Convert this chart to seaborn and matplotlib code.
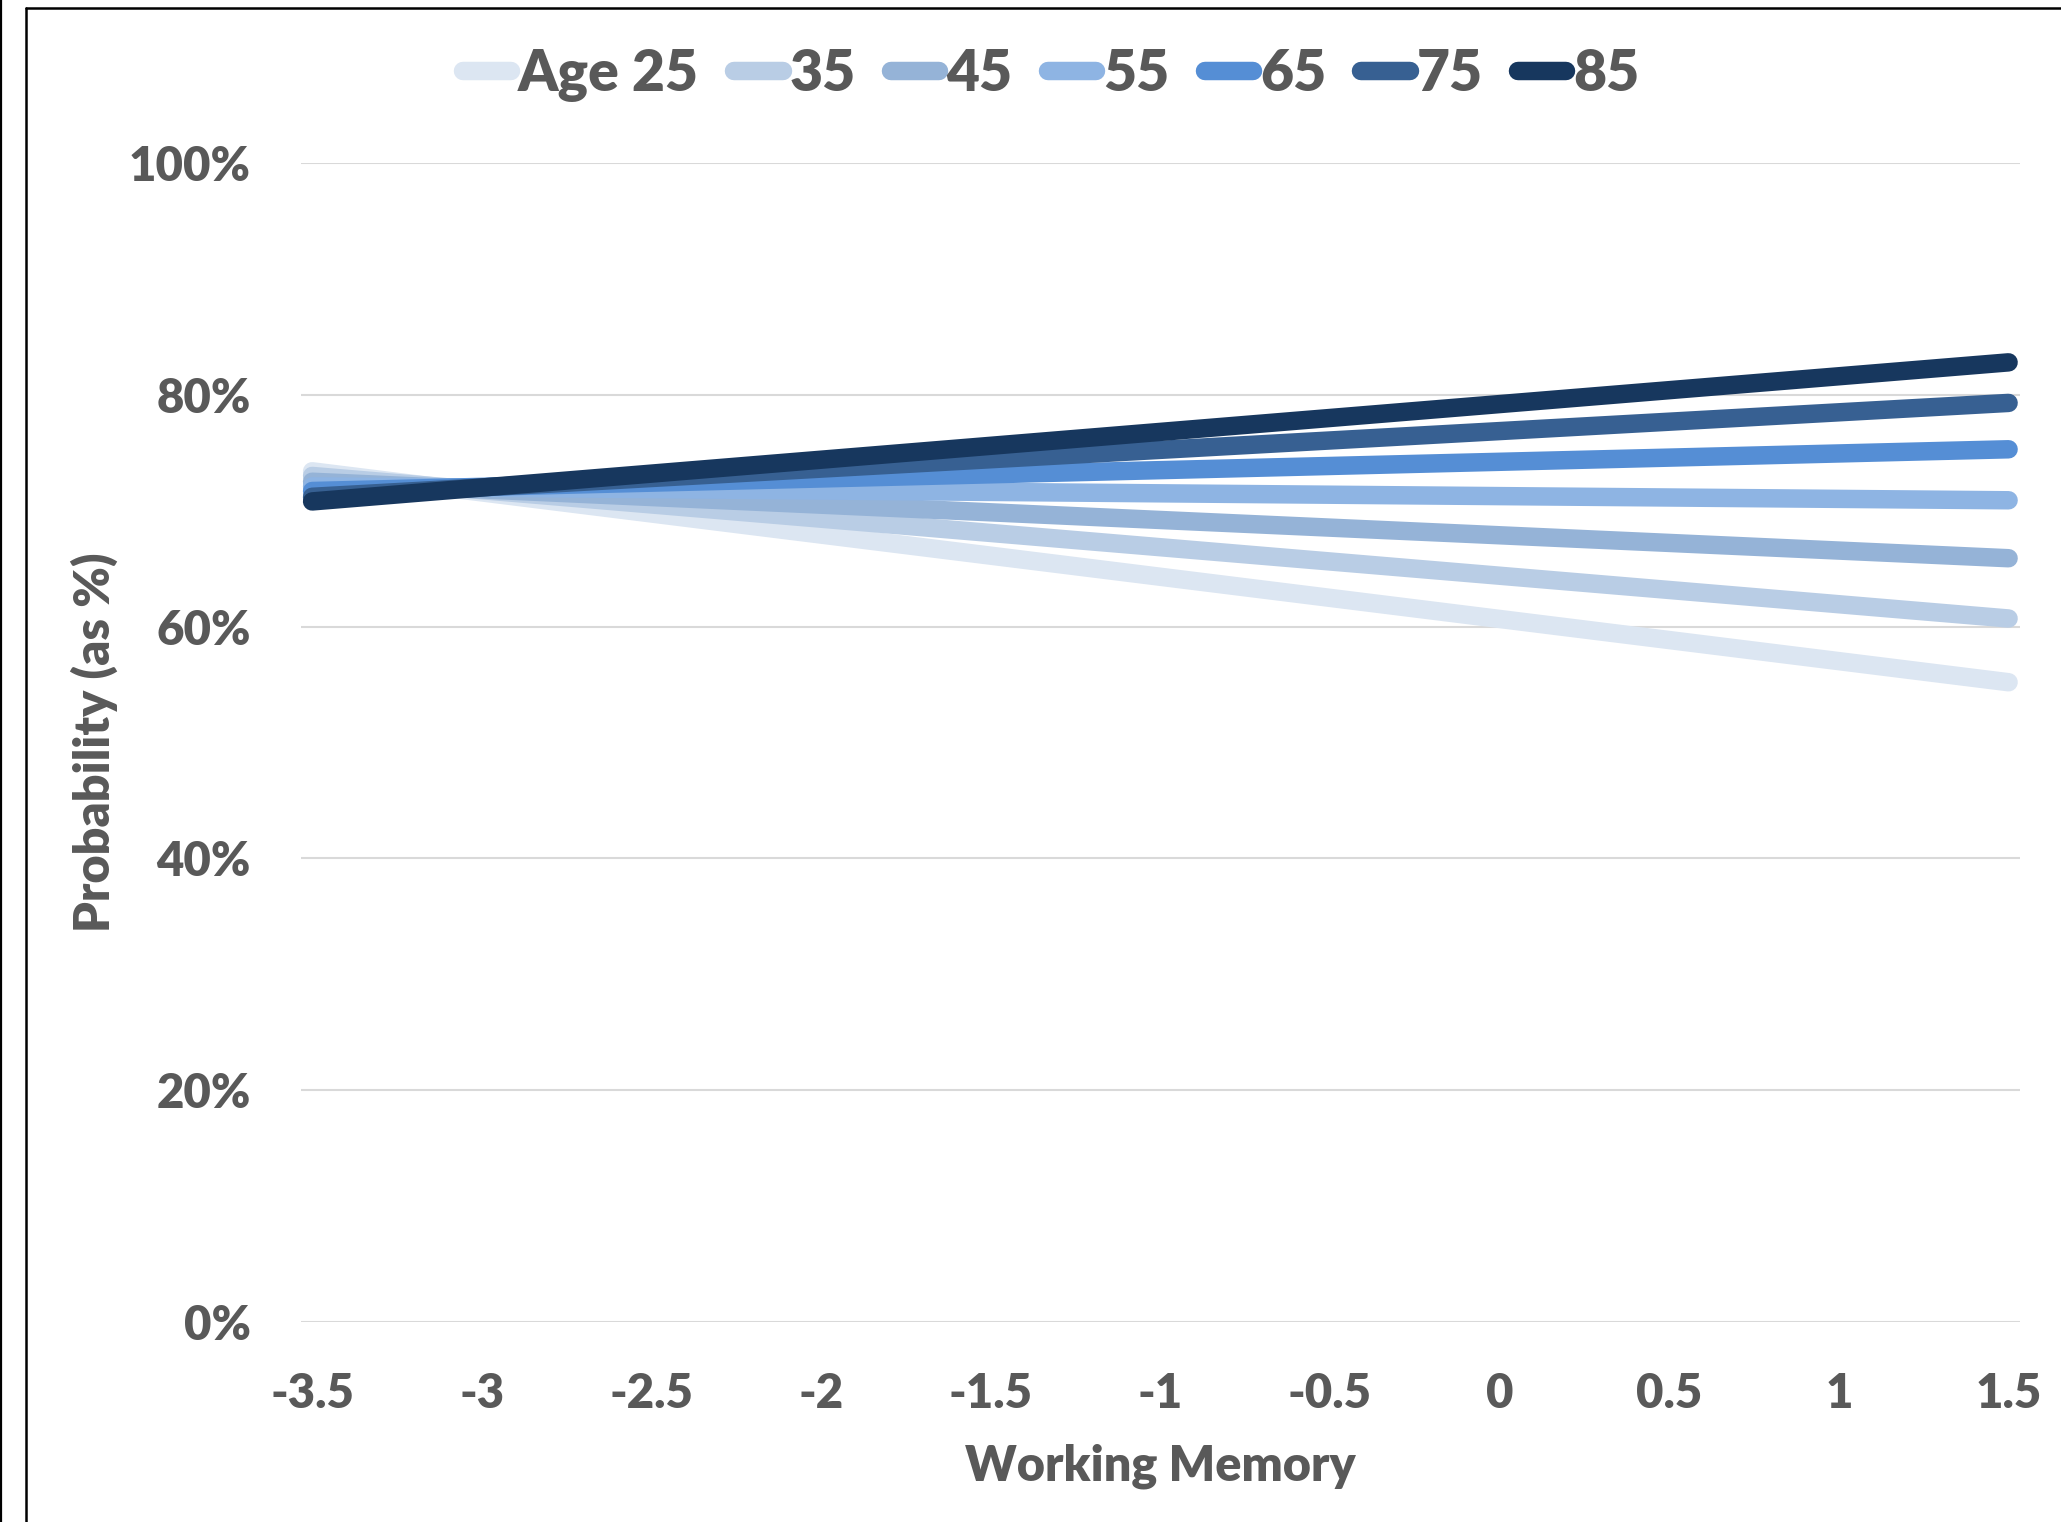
import matplotlib
matplotlib.use("Agg")
import matplotlib.pyplot as plt
from matplotlib.lines import Line2D
from matplotlib.ticker import PercentFormatter
import seaborn as sns
import pandas as pd

# Predicted probability by working memory, one line per age group
wm_points = [-3.5, 1.5]
age_labels = ["Age 25", "35", "45", "55", "65", "75", "85"]
prob_age25 = [0.734, 0.552]
prob_age35 = [0.730, 0.607]
prob_age45 = [0.725, 0.659]
prob_age55 = [0.721, 0.709]
prob_age65 = [0.717, 0.753]
prob_age75 = [0.712, 0.793]
prob_age85 = [0.708, 0.828]
series = [prob_age25, prob_age35, prob_age45, prob_age55, prob_age65, prob_age75, prob_age85]
line_colors = ["#DCE6F2", "#B9CDE5", "#95B3D7", "#8EB4E3", "#558ED5", "#376092", "#17375E"]
x_ticks = [-3.5, -3, -2.5, -2, -1.5, -1, -0.5, 0, 0.5, 1, 1.5]
x_tick_labels = ["-3.5", "-3", "-2.5", "-2", "-1.5", "-1", "-0.5", "0", "0.5", "1", "1.5"]
y_ticks = [0, 0.2, 0.4, 0.6, 0.8, 1.0]

rows = []
for label, vals in zip(age_labels, series):
    for x, y in zip(wm_points, vals):
        rows.append({"Working Memory": x, "Probability": y, "Age": label})
df = pd.DataFrame(rows)

sns.set_theme(style="white")
plt.rcParams["font.family"] = ["Lato", "DejaVu Sans"]
plt.rcParams["font.weight"] = "heavy"

text_color = "#595959"
weight = "heavy"
fig = plt.figure(figsize=(20.61, 15.22), dpi=100)
ax = fig.add_axes([0.146, 0.1314, 0.834, 0.7615])

lw = 13.3
sns.lineplot(data=df, x="Working Memory", y="Probability", hue="Age",
             hue_order=age_labels, palette=line_colors, linewidth=lw,
             sort=False, legend=False, ax=ax)
for ln in ax.lines:
    ln.set_solid_capstyle("round")

ax.set_xlim(-3.533, 1.533)
ax.set_ylim(0, 1.0)
ax.set_xticks(x_ticks)
ax.set_xticklabels(x_tick_labels)
ax.set_yticks(y_ticks)
ax.yaxis.set_major_formatter(PercentFormatter(1.0, decimals=0))
ax.grid(axis="y", color="#D9D9D9", linewidth=1.5)
ax.grid(axis="x", visible=False)
ax.set_axisbelow(True)
for s in ax.spines.values():
    s.set_visible(False)
ax.tick_params(axis="both", length=0, labelsize=34, labelcolor=text_color)
ax.tick_params(axis="x", pad=36)
ax.tick_params(axis="y", pad=36)
for t in ax.get_xticklabels() + ax.get_yticklabels():
    t.set_fontweight(weight)

ax.set_xlabel("Working Memory", fontsize=35, fontweight=weight, color=text_color, labelpad=20)
ax.set_ylabel("Probability (as %)", fontsize=35, fontweight=weight, color=text_color, labelpad=8)

handles = [Line2D([0], [0], color=c, linewidth=lw, solid_capstyle="round") for c in line_colors]
leg = fig.legend(handles, age_labels, loc="center", bbox_to_anchor=(0.51, 0.951),
                 ncol=7, frameon=False, handlelength=0.85, handletextpad=0.12,
                 columnspacing=0.62, prop={"size": 41, "weight": weight})
for t in leg.get_texts():
    t.set_color(text_color)

# Outer frame lines
fig.add_artist(Line2D([0.0006, 0.0006], [0, 1], transform=fig.transFigure, color="black", linewidth=1.6))
fig.add_artist(Line2D([0.0124, 0.0124], [0, 0.9948], transform=fig.transFigure, color="black", linewidth=1.8))
fig.add_artist(Line2D([0.0124, 1.0], [0.9948, 0.9948], transform=fig.transFigure, color="black", linewidth=1.8))

fig.savefig("out.png", dpi=100, facecolor="white")
